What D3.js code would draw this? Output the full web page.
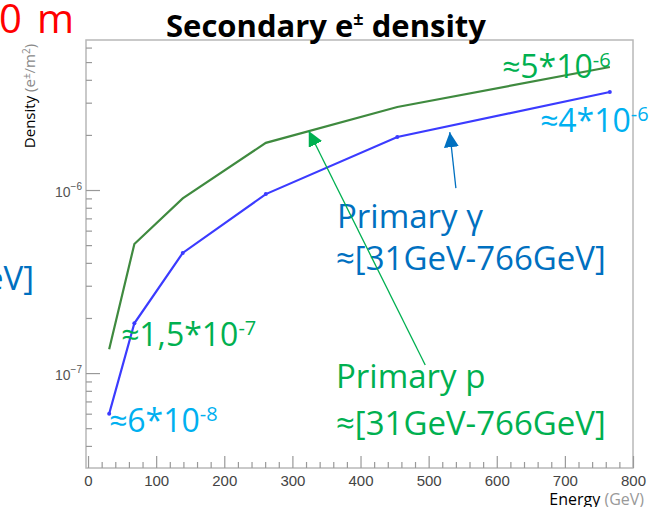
<!DOCTYPE html>
<html>
<head>
<meta charset="UTF-8">
<title>Secondary e± density</title>
<script src="https://cdn.jsdelivr.net/npm/d3@7"></script>
<style>
  body { margin: 0; background: #fff; }
  svg { display: block; }
</style>
</head>
<body>
<svg id="chart" width="651" height="507"></svg>
<script>
// data
var energy = [31, 68, 139, 261, 454, 766];                              // GeV
var densityP = [1.35e-7, 5.07e-7, 9.0e-7, 1.81e-6, 2.84e-6, 4.7e-6];    // primary p
var densityG = [6.0e-8, 1.87e-7, 4.53e-7, 9.5e-7, 1.95e-6, 3.43e-6];    // primary gamma
var xTicks = [0, 100, 200, 300, 400, 500, 600, 700, 800];
var yTicks = [1e-7, 1e-6];
var yTickLabels = ["\u22127", "\u22126"];

var svg = d3.select("#chart");
var frameL = 86, frameR = 633, frameT = 40, frameB = 468;

var x = d3.scaleLinear().domain([-3, 800]).range([frameL, frameR]);
var y = d3.scaleLog().domain([3.03e-8, 6.6e-6]).range([frameB, frameT]);

// frame
svg.append("rect")
  .attr("x", frameL).attr("y", frameT)
  .attr("width", frameR - frameL).attr("height", frameB - frameT)
  .attr("fill", "#fff").attr("stroke", "#b8b8b8").attr("stroke-width", 1.5);

// x axis, ticks pointing into the frame
var xMinor = d3.range(0, 801, 20).filter(function (d) { return d % 100 !== 0; });
var gx = svg.append("g").attr("transform", "translate(0," + frameB + ")");
gx.call(d3.axisBottom(x).tickValues(xTicks).tickSize(-12).tickPadding(7));
gx.append("g").call(d3.axisBottom(x).tickValues(xMinor).tickSize(-6).tickFormat(""));
gx.selectAll(".domain").remove();
gx.selectAll("line").attr("stroke", "#999").attr("stroke-width", 1.2);
gx.selectAll("text").attr("fill", "#444")
  .style("font-family", "'Liberation Sans', Arial, sans-serif").style("font-size", "15px");

// y axis (log)
var yMinor = [];
[1e-8, 1e-7, 1e-6].forEach(function (dec) {
  for (var k = 2; k <= 9; k++) {
    var v = k * dec;
    if (v >= y.domain()[0] && v <= y.domain()[1]) yMinor.push(v);
  }
});
var gy = svg.append("g").attr("transform", "translate(" + frameL + ",0)");
gy.call(d3.axisLeft(y).tickValues(yTicks).tickSize(-14).tickFormat(""));
gy.append("g").call(d3.axisLeft(y).tickValues(yMinor).tickSize(-6).tickFormat(""));
gy.selectAll(".domain").remove();
gy.selectAll("line").attr("stroke", "#999").attr("stroke-width", 1.2);

// y labels 10^-n
yTicks.forEach(function (v, i) {
  var t = svg.append("text")
    .attr("x", frameL - 4).attr("y", y(v) + 7)
    .attr("text-anchor", "end").attr("fill", "#555")
    .style("font-family", "'Liberation Sans', Arial, sans-serif").style("font-size", "14px");
  t.append("tspan").text("10");
  t.append("tspan").attr("dy", -7).style("font-size", "10px").text(yTickLabels[i]);
});

// lines
var line = d3.line()
  .x(function (d) { return x(d[0]); })
  .y(function (d) { return y(d[1]); });

var seriesP = d3.zip(energy, densityP);
var seriesG = d3.zip(energy, densityG);

svg.append("path").datum(seriesP)
  .attr("d", line).attr("fill", "none")
  .attr("stroke", "#3f8a3f").attr("stroke-width", 2.2);
svg.append("path").datum(seriesG)
  .attr("d", line).attr("fill", "none")
  .attr("stroke", "#3b3bff").attr("stroke-width", 2.2);

svg.selectAll(".ptG").data(seriesG).enter().append("circle")
  .attr("cx", function (d) { return x(d[0]); })
  .attr("cy", function (d) { return y(d[1]); })
  .attr("r", 2).attr("fill", "#3b3bff");

// titles
var sans = "'Open Sans', 'Noto Sans', sans-serif";

var title = svg.append("text")
  .attr("x", 326).attr("y", 37).attr("text-anchor", "middle")
  .attr("font-weight", "bold").attr("fill", "#000")
  .style("font-family", sans).style("font-size", "31px");
title.append("tspan").text("Secondary e");
title.append("tspan").attr("dy", -12).style("font-size", "18px").text("\u00b1");
title.append("tspan").attr("dy", 12).text(" density");

var yTitle = svg.append("text")
  .attr("transform", "translate(35,96) rotate(-90)")
  .attr("text-anchor", "middle")
  .style("font-family", sans).style("font-size", "15px");
yTitle.append("tspan").attr("fill", "#000").text("Density ");
yTitle.append("tspan").attr("fill", "#888").text("(e");
yTitle.append("tspan").attr("fill", "#888").attr("dy", -5).style("font-size", "10px").text("\u00b1");
yTitle.append("tspan").attr("fill", "#888").attr("dy", 5).text("/m");
yTitle.append("tspan").attr("fill", "#888").attr("dy", -5).style("font-size", "10px").text("2");
yTitle.append("tspan").attr("fill", "#888").attr("dy", 5).text(")");

var xTitle = svg.append("text")
  .attr("x", 644).attr("y", 505).attr("text-anchor", "end")
  .style("font-family", sans).style("font-size", "16px");
xTitle.append("tspan").attr("fill", "#000").text("Energy ");
xTitle.append("tspan").attr("fill", "#999").text("(GeV)");

// annotations
var green = "#00b050", lightBlue = "#00b0f0", darkBlue = "#0070c0";

function label(px, py, txt, color, size) {
  return svg.append("text").attr("x", px).attr("y", py).attr("fill", color)
    .style("font-family", sans).style("font-size", size + "px").text(txt);
}
function power(px, py, base, exp, color) {
  var t = svg.append("text").attr("x", px).attr("y", py).attr("fill", color)
    .style("font-family", sans).style("font-size", "32px");
  t.append("tspan").text(base);
  t.append("tspan").attr("dy", -11).style("font-size", "20px").text(exp);
}

var zeroM = label(-1, 33, "0", "#ff0000", 40);
zeroM.append("tspan").attr("x", 37).text("m");
label(34, 290, "eV]", darkBlue, 33).attr("text-anchor", "end");

power(502, 78, "\u22485*10", "-6", green);
power(540, 132, "\u22484*10", "-6", lightBlue);
power(121, 346, "\u22481,5*10", "-7", green);
power(109, 432, "\u22486*10", "-8", lightBlue);

label(337, 228, "Primary \u03b3", darkBlue, 33);
label(336, 270, "\u2248[31GeV-766GeV]", darkBlue, 33);
label(336, 388, "Primary p", green, 33);
label(336, 435, "\u2248[31GeV-766GeV]", green, 33);

// arrows, ends given in data units
var defs = svg.append("defs");
[["headG", green], ["headB", darkBlue]].forEach(function (m) {
  defs.append("marker").attr("id", m[0])
    .attr("viewBox", "0 0 10 10").attr("refX", 10).attr("refY", 5)
    .attr("markerUnits", "userSpaceOnUse")
    .attr("markerWidth", 15).attr("markerHeight", 15)
    .attr("orient", "auto")
    .append("path").attr("d", "M0,0 L10,5 L0,10 Z").attr("fill", m[1]);
});

var arrows = [
  { from: [495, 1.106e-7], to: [324, 2.1e-6], color: green, head: "headG" },
  { from: [540, 1.025e-6], to: [531, 2.07e-6], color: darkBlue, head: "headB" }
];
arrows.forEach(function (a) {
  svg.append("line")
    .attr("x1", x(a.from[0])).attr("y1", y(a.from[1]))
    .attr("x2", x(a.to[0])).attr("y2", y(a.to[1]))
    .attr("stroke", a.color).attr("stroke-width", 1.3)
    .attr("marker-end", "url(#" + a.head + ")");
});
</script>
</body>
</html>
